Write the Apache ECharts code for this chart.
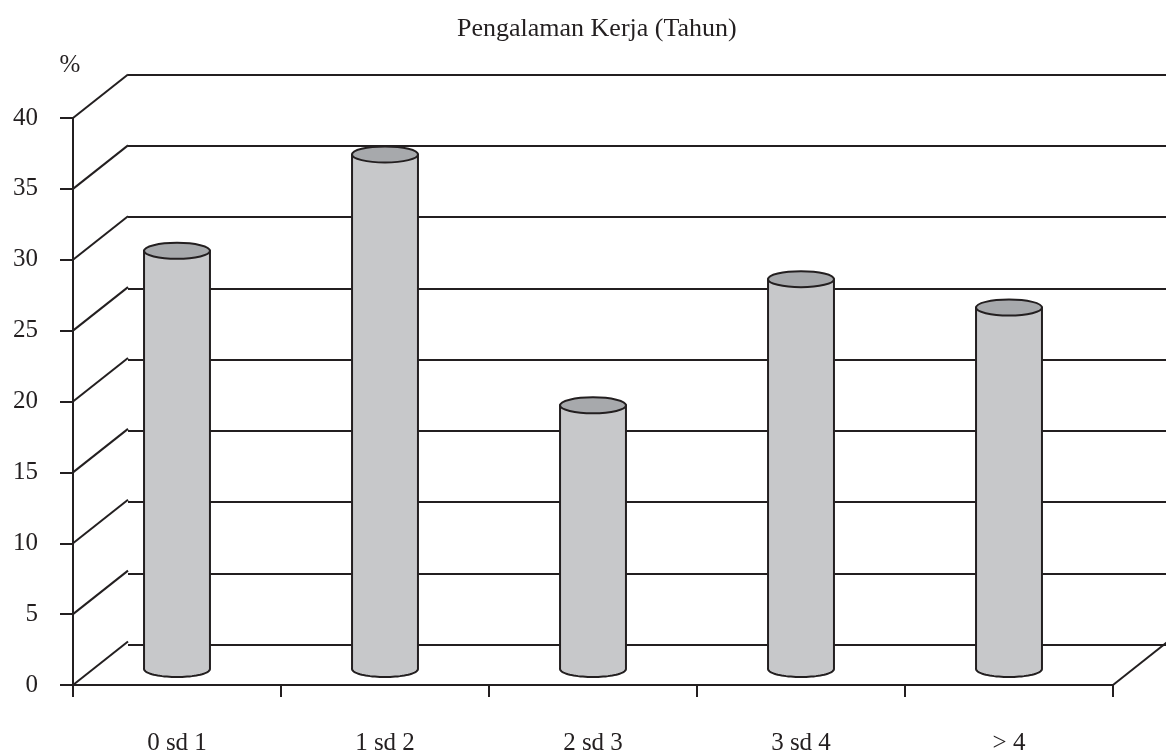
<!DOCTYPE html>
<html>
<head>
<meta charset="utf-8">
<script src="https://cdn.jsdelivr.net/npm/echarts@6/dist/echarts.min.js"></script>
<style>
  html, body { margin: 0; padding: 0; background: #fff; }
  #chart { width: 1166px; height: 756px; }
</style>
</head>
<body>
<div id="chart"></div>
<script>
// Work experience groups (years) and the share of respondents in each (%)
const categories = ['0 sd 1', '1 sd 2', '2 sd 3', '3 sd 4', '> 4'];
const percentValues = [29.5, 36.3, 18.6, 27.5, 25.5];
const gridTicks = [0, 5, 10, 15, 20, 25, 30, 35, 40];

const INK = '#231f20';
const FONT = '"Liberation Serif", "Times New Roman", serif';
// oblique depth of the pseudo-3D box
const DEPTH_X = 55;
const DEPTH_Y = -43.5;
// cylinders stand slightly behind the front edge of the floor
const LIFT = 16;
const TOP_RY = 8;

const chart = echarts.init(document.getElementById('chart'), null, { renderer: 'canvas' });

function ellipsePoints(cx, cy, rx, ry, a0, a1, n) {
  const pts = [];
  for (let k = 0; k <= n; k++) {
    const a = a0 + (a1 - a0) * k / n;
    pts.push([cx + rx * Math.cos(a), cy + ry * Math.sin(a)]);
  }
  return pts;
}

const option = {
  backgroundColor: '#ffffff',
  animation: false,
  title: {
    text: 'Pengalaman Kerja (Tahun)',
    left: 452,
    top: 11,
    textStyle: { fontFamily: FONT, fontWeight: 'normal', fontSize: 26, color: INK }
  },
  grid: [
    { left: 73, top: 118, width: 1040, height: 570 },
    { left: 73 + DEPTH_X, top: 118 + DEPTH_Y, width: 1040, height: 570 }
  ],
  xAxis: [
    {
      type: 'category', gridIndex: 0, data: categories, boundaryGap: true,
      axisLine: { show: true, lineStyle: { color: INK, width: 2 } },
      axisTick: { show: true, length: 12, inside: false, lineStyle: { color: INK, width: 2 } },
      axisLabel: { margin: 46, fontFamily: FONT, fontSize: 25, color: INK },
      splitLine: { show: false }
    },
    {
      type: 'category', gridIndex: 1, data: categories,
      axisLine: { show: false }, axisTick: { show: false }, axisLabel: { show: false },
      splitLine: { show: false }
    }
  ],
  yAxis: [
    {
      type: 'value', gridIndex: 0, min: 0, max: 40, interval: 5,
      name: '%', nameLocation: 'end', nameGap: 40,
      nameTextStyle: { fontFamily: FONT, fontSize: 25, color: INK, align: 'center', padding: [0, 6, 0, 0] },
      axisLine: { show: true, lineStyle: { color: INK, width: 2 } },
      axisTick: { show: true, length: 13, lineStyle: { color: INK, width: 2 } },
      axisLabel: { margin: 35, fontFamily: FONT, fontSize: 25, color: INK },
      splitLine: { show: false }
    },
    {
      type: 'value', gridIndex: 1, min: 0, max: 40, interval: 5,
      axisLine: { show: false }, axisTick: { show: false }, axisLabel: { show: false },
      splitLine: { show: true, lineStyle: { color: INK, width: 2 } }
    }
  ],
  series: [
    {
      // oblique edges joining the front axis ticks to the back wall
      type: 'custom',
      xAxisIndex: 0, yAxisIndex: 0,
      silent: true,
      z: 1,
      data: gridTicks.map(v => [0, v]),
      renderItem: function (params, api) {
        const y = api.coord([0, api.value(1)])[1];
        const x = params.coordSys.x;
        const children = [{
          type: 'line',
          shape: { x1: x, y1: y, x2: x + DEPTH_X, y2: y + DEPTH_Y },
          style: { stroke: INK, lineWidth: 2 }
        }];
        if (api.value(1) === 0) {
          const xr = params.coordSys.x + params.coordSys.width;
          children.push({
            type: 'line',
            shape: { x1: xr, y1: y, x2: xr + DEPTH_X, y2: y + DEPTH_Y },
            style: { stroke: INK, lineWidth: 2 }
          });
        }
        return { type: 'group', children: children };
      }
    },
    {
      // cylinders
      type: 'custom',
      xAxisIndex: 0, yAxisIndex: 0,
      z: 3,
      data: percentValues.map((v, i) => [i, v]),
      renderItem: function (params, api) {
        const i = api.value(0);
        const base = api.coord([i, 0]);
        const top = api.coord([i, api.value(1)]);
        const rx = api.size([1, 0])[0] * 0.317 / 2;
        const cx = base[0];
        const yb = base[1] - LIFT;
        const yt = top[1] - LIFT;
        const bodyPts = [[cx - rx, yt]]
          .concat(ellipsePoints(cx, yb, rx, TOP_RY, Math.PI, 0, 40))
          .concat([[cx + rx, yt]]);
        return {
          type: 'group',
          children: [
            {
              type: 'polygon',
              shape: { points: bodyPts },
              style: { fill: '#c7c8ca', stroke: INK, lineWidth: 2 }
            },
            {
              type: 'ellipse',
              shape: { cx: cx, cy: yt, rx: rx, ry: TOP_RY },
              style: { fill: '#a7a9ac', stroke: INK, lineWidth: 2 }
            }
          ]
        };
      }
    }
  ]
};

chart.setOption(option);
</script>
</body>
</html>
